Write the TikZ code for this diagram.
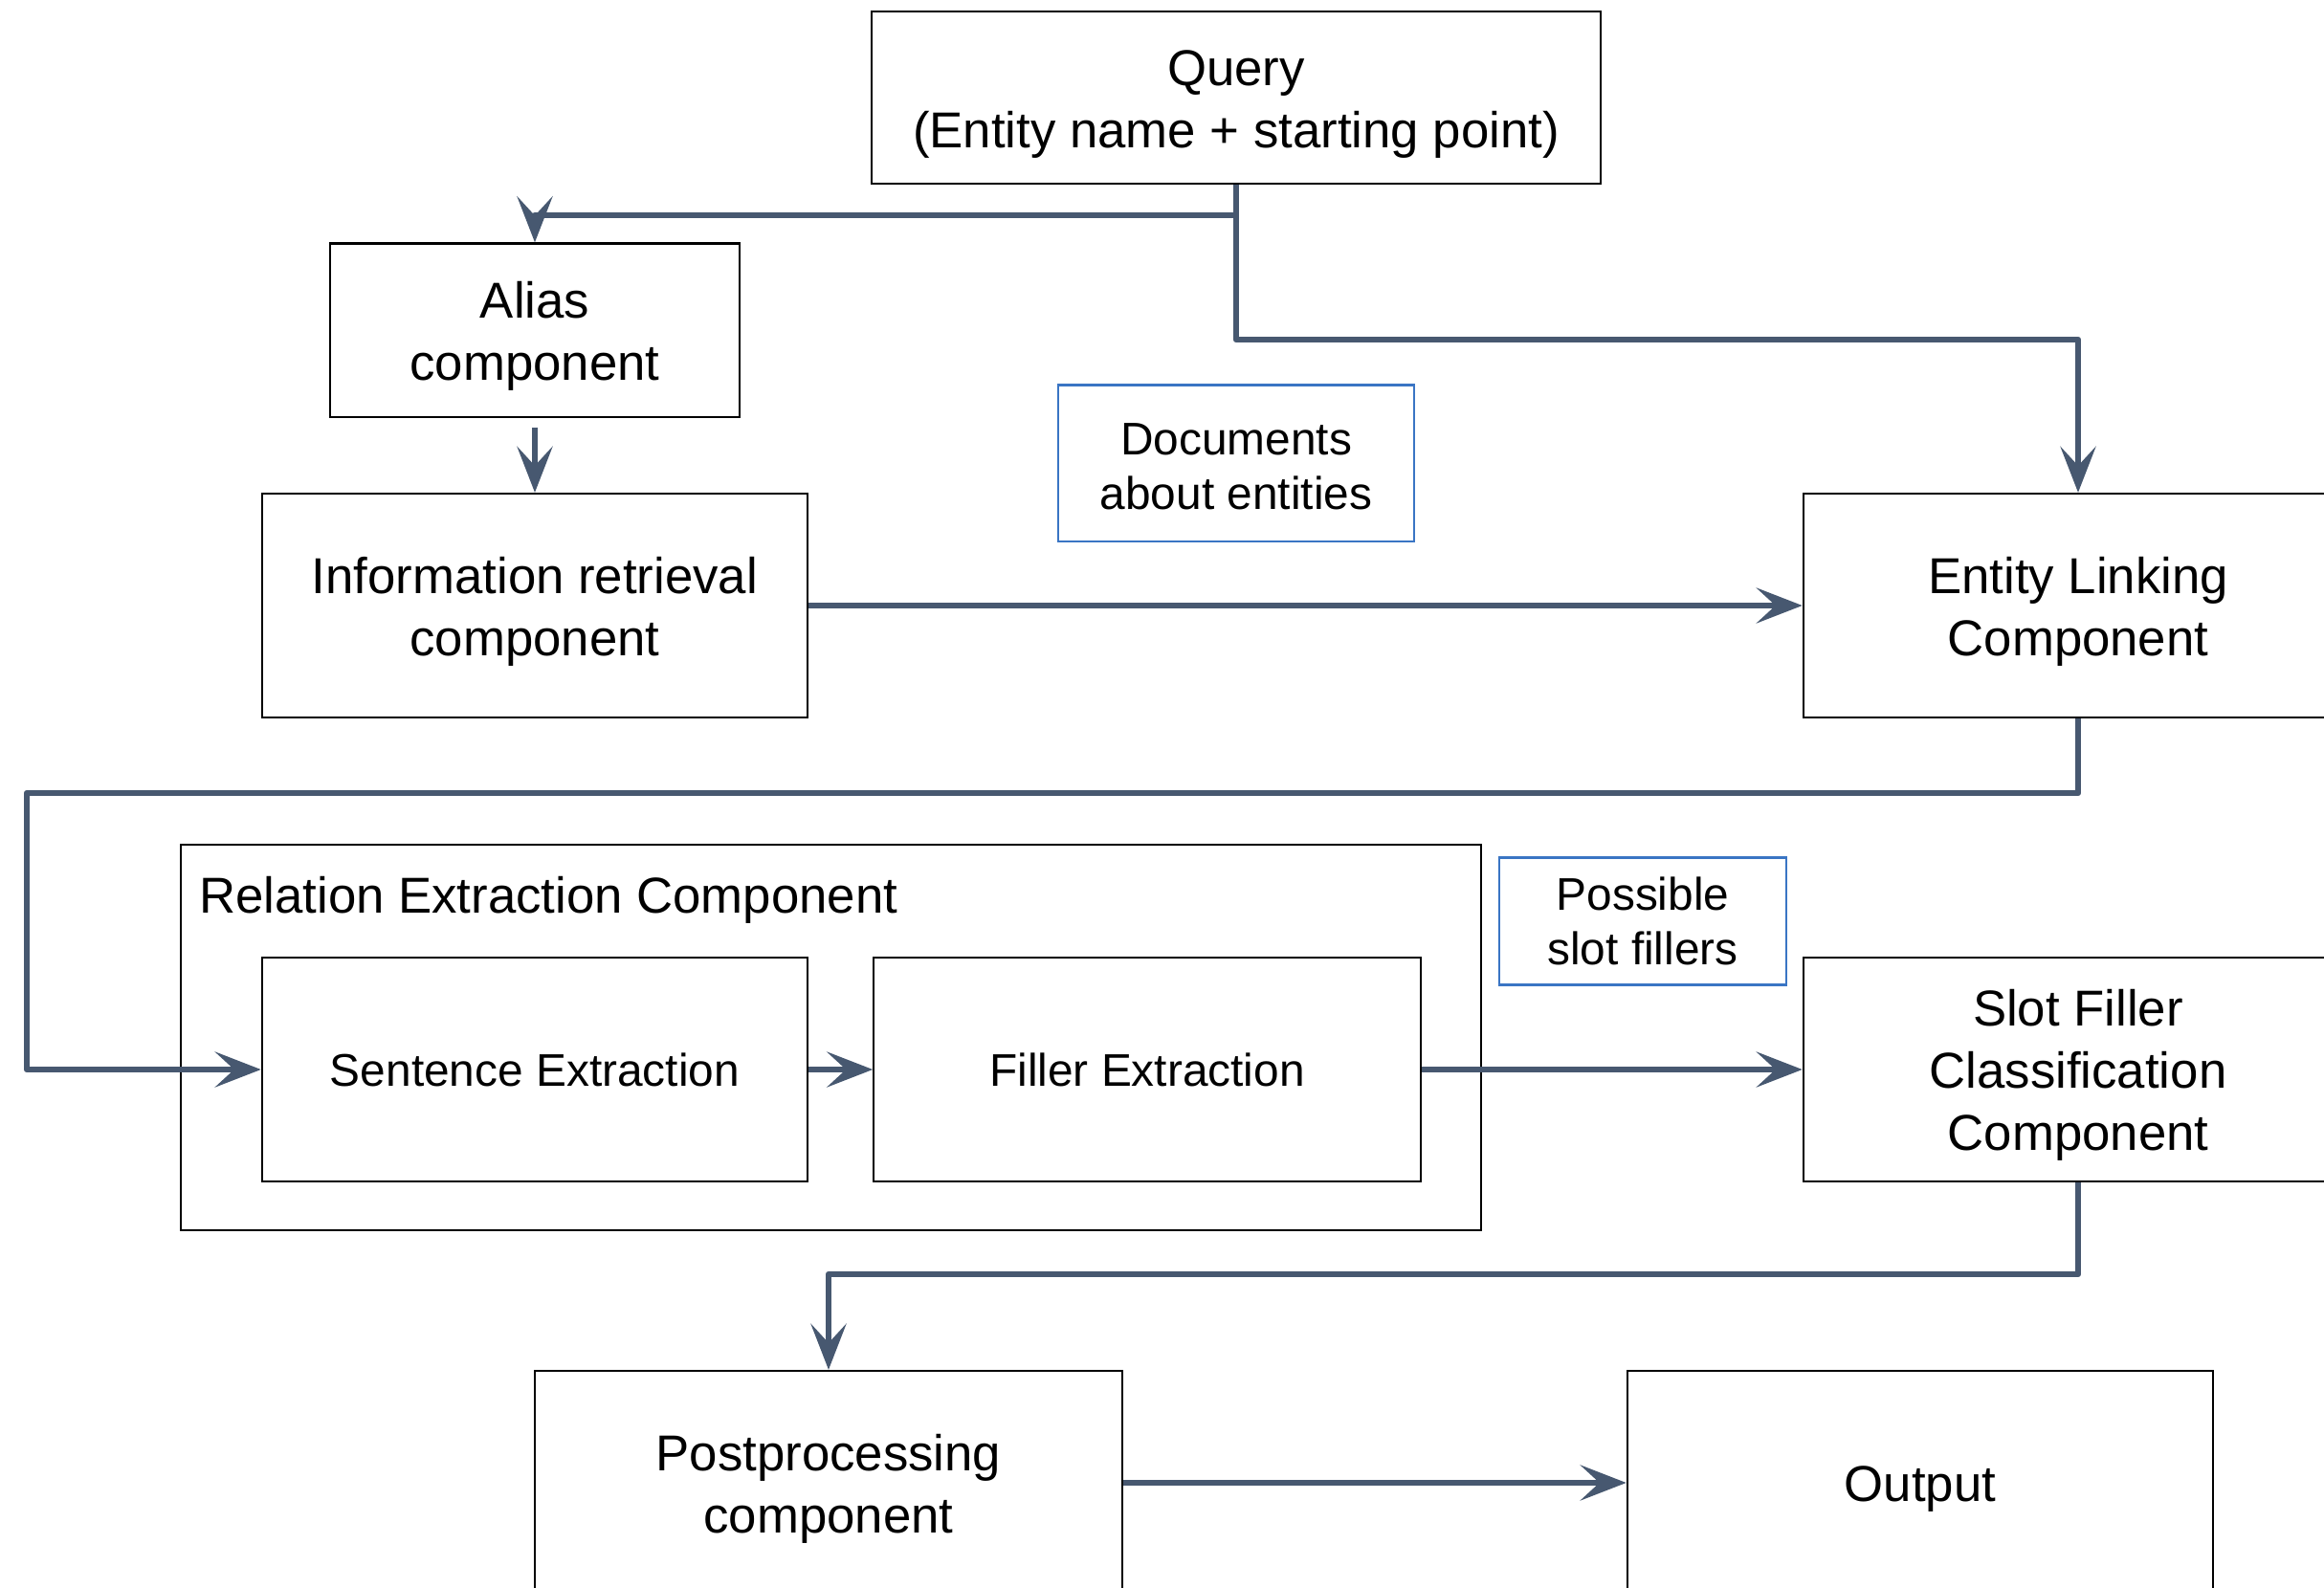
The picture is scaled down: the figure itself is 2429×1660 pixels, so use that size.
\documentclass[tikz,border=0pt]{standalone}
\usepackage{fontspec}
\setmainfont{Liberation Sans}
\usetikzlibrary{positioning, arrows.meta}

\definecolor{flowline}{HTML}{475870}
\definecolor{notebox}{HTML}{3A75C4}

\newcommand{\bigtext}{\fontsize{15}{18.5}\selectfont}
\newcommand{\smalltext}{\fontsize{13.6}{16.2}\selectfont}
% a little extra room above the first line
\newcommand{\topstrut}{\rule{0pt}{14.4pt}}
\newcommand{\notestrut}{\rule{0pt}{11.6pt}}

\begin{document}
\begin{tikzpicture}[x=0.01cm, y=-0.01cm,
    plainbox/.style={draw=black, line width=0.6pt, rectangle, align=center, inner sep=0pt},
    box/.style={plainbox, font=\bigtext},
    smallbox/.style={plainbox, font=\smalltext},
    note/.style={draw=notebox, line width=0.6pt, rectangle, align=center, inner sep=0pt, font=\smalltext},
    flow/.style={draw=flowline, line width=1.85pt, line join=round,
        -{Stealth[length=0.48cm, width=0.37cm, inset=0.2cm]}}]

    \clip (0,0) rectangle (2429,1660);
    \useasboundingbox (0,0) rectangle (2429,1660);

    % Top part: query, alias and retrieval
    \node (query) [box, minimum width=7.62cm, minimum height=1.8cm] at (1292,102) {\topstrut Query\\(Entity name + starting point)};
    \node (alias) [box, minimum width=4.28cm, minimum height=1.81cm] at (559,345) {\topstrut Alias\\component};
    \node (ir) [box, minimum width=5.7cm, minimum height=2.34cm] at (559,633) {\topstrut Information retrieval\\component};
    \node (docs) [note, minimum width=3.72cm, minimum height=1.63cm] at (1292,484) {\notestrut Documents\\about entities};
    \node (el) [box, minimum width=5.74cm, minimum height=2.34cm] at (2172,633) {\topstrut Entity Linking\\Component};

    % Relation extraction group
    \node (rec) [plainbox, minimum width=13.59cm, minimum height=4.03cm] at (868.5,1084.5) {};
    \node (reclabel) [anchor=west, inner sep=0pt, font=\bigtext] at ([xshift=0.2cm, yshift=-0.59cm]rec.north west) {Relation Extraction Component};
    \node (sent) [smallbox, minimum width=5.7cm, minimum height=2.34cm] at (559,1118) {Sentence Extraction};
    \node (fill) [smallbox, minimum width=5.71cm, minimum height=2.34cm, right=0.67cm of sent] {Filler Extraction};
    \node (slots) [note, minimum width=2.99cm, minimum height=1.33cm] at (1717,963) {Possible\\slot fillers};
    \node (sfc) [box, minimum width=5.74cm, minimum height=2.34cm] at (2172,1118) {\topstrut Slot Filler\\Classification\\Component};

    % Bottom row
    \node (post) [box, minimum width=6.14cm, minimum height=2.34cm] at (866,1550) {\topstrut Postprocessing\\component};
    \node (out) [box, minimum width=6.12cm, minimum height=2.34cm] at (2007,1550) {\topstrut Output};

    % Bends of the connectors
    \coordinate (qsplit) at (1292,225);
    \coordinate (qturn) at (1292,355);
    \coordinate (lback) at (28,829);
    \coordinate (sback) at (866,1332);

    % Connectors
    \draw[flow] (query.south) -- (qsplit) -| (alias.north);
    \draw[flow] (qsplit) -- (qturn) -| (el.north);
    \draw[flow] ([yshift=-0.1cm]alias.south) -- (ir.north);
    \draw[flow] (ir.east) -- (el.west);
    \draw[flow] (el.south) |- (lback) |- (sent.west);
    \draw[flow] (sent.east) -- (fill.west);
    \draw[flow] (fill.east) -- (sfc.west);
    \draw[flow] (sfc.south) |- (sback) -- (post.north);
    \draw[flow] (post.east) -- (out.west);

\end{tikzpicture}
\end{document}
